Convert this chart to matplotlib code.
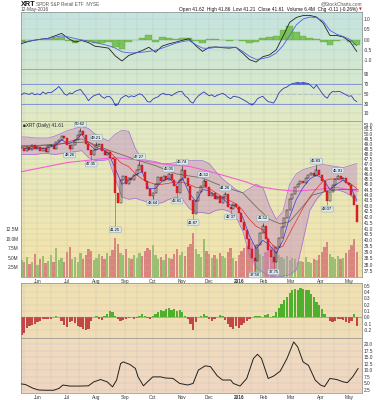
import numpy as np
import pandas as pd
import matplotlib
matplotlib.use('Agg')
import matplotlib.pyplot as plt
from matplotlib.colors import to_rgb
from matplotlib.ticker import NullLocator, FixedLocator

plt.rcParams['font.family'] = ['Liberation Sans Narrow', 'Liberation Sans', 'DejaVu Sans']

# trading calendar 13-May-2015 .. 12-May-2016
holidays = ['2015-05-25', '2015-07-03', '2015-09-07', '2015-11-26', '2015-12-25',
            '2016-01-01', '2016-01-18', '2016-02-15', '2016-03-25']
dates = pd.bdate_range('2015-05-13', '2016-05-12', freq='C', holidays=holidays)

# price, every 2nd trading day
close = [48.6, 48.3, 48.7, 48.4, 48.9, 48.5, 48.7, 48.3, 48.6, 48.2,
         48.8, 48.9, 48.5, 49.2, 49.4, 49.8, 49.6, 48.9, 48.5, 48.9,
         49.4, 49.9, 50.3, 49.9, 49.0, 48.4, 47.9, 48.4, 48.9, 49.0,
         48.3, 47.9, 48.2, 47.6, 47.5, 44.2, 43.3, 45.4, 45.8, 45.0,
         45.6, 45.4, 45.9, 46.4, 46.9, 46.2, 45.3, 44.6, 43.9, 44.2,
         45.0, 45.7, 45.3, 45.8, 45.4, 46.0, 45.4, 44.8, 44.2, 45.4,
         46.4, 45.6, 44.8, 43.5, 42.3, 43.4, 44.3, 44.8, 45.3, 44.7,
         43.9, 44.2, 43.6, 43.9, 43.3, 43.8, 44.1, 42.9, 42.7, 43.2,
         42.9, 42.4, 41.6, 40.9, 40.1, 39.3, 38.5, 38.3, 39.6, 40.6,
         41.2, 40.1, 39.2, 38.6, 38.2, 39.4, 40.2, 41.1, 41.9, 42.6,
         43.6, 44.1, 44.7, 45.0, 45.3, 45.1, 45.6, 45.9, 46.1, 45.8,
         46.4, 45.9, 45.3, 44.4, 43.4, 44.3, 44.9, 45.5, 45.8, 45.5,
         45.6, 45.1, 44.9, 44.0, 43.1, 41.61]
volume = [4.5, 3.8, 5.2, 3.5, 4.0, 6.0, 3.2, 4.8, 5.5, 3.6,
          4.2, 5.8, 3.9, 7.5, 4.4, 5.0, 3.8, 6.5, 7.8, 4.6,
          5.2, 3.9, 6.2, 4.8, 5.6, 7.2, 6.8, 4.4, 5.0, 6.0,
          5.4, 4.8, 6.2, 5.5, 7.0, 10.2, 8.5, 6.3, 5.8, 7.4,
          5.0, 4.6, 5.8, 4.9, 6.2, 5.5, 6.8, 7.5, 6.9, 8.2,
          5.6, 4.8, 5.2, 4.3, 6.0, 5.0, 4.6, 5.9, 7.2, 5.8,
          6.6, 5.4, 7.8, 8.6, 11.4, 7.2, 6.0, 5.2, 10.0, 6.8,
          6.0, 5.0, 5.6, 4.8, 6.2, 5.5, 4.9, 6.6, 7.5, 5.0,
          4.2, 5.8, 6.8, 7.6, 8.0, 7.5, 9.0, 8.4, 7.2, 6.0,
          5.4, 6.5, 7.0, 7.8, 8.2, 6.8, 5.6, 5.2, 4.8, 5.5,
          4.4, 5.0, 4.6, 3.8, 4.2, 3.9, 5.2, 4.0, 3.6, 4.8,
          4.5, 5.8, 6.6, 7.8, 9.0, 6.0, 5.2, 4.8, 5.4, 4.6,
          5.0, 6.2, 7.0, 8.4, 10.0, 6.4]
rsi = [48, 52, 50, 49, 52, 48, 50, 48, 54, 50,
       53, 52, 56, 60, 65, 58, 50, 47, 52, 50,
       55, 57, 59, 52, 45, 36, 42, 46, 48, 50,
       44, 41, 45, 44, 38, 26, 28, 40, 44, 47,
       43, 46, 44, 47, 50, 48, 42, 34, 33, 39,
       42, 44, 49, 51, 48, 49, 46, 50, 53, 55,
       54, 46, 42, 34, 31, 40, 46, 50, 54, 50,
       46, 48, 44, 47, 49, 51, 48, 43, 40, 45,
       44, 43, 40, 37, 34, 30, 27, 32, 40, 43,
       45, 39, 34, 33, 31, 40, 52, 58, 62, 64,
       68, 71, 72, 73, 72, 73, 72, 71, 66, 61,
       68, 60, 52, 45, 41, 50, 55, 54, 55, 54,
       51, 48, 45, 46, 38, 34]
osc = [-0.28, -0.24, -0.17, -0.14, -0.12, -0.10, -0.08, -0.06, -0.03, -0.02,
       -0.03, -0.02, 0.01, 0.02, 0.01, -0.06, -0.12, -0.15, -0.08, -0.05,
       -0.09, -0.13, -0.16, -0.19, -0.20, -0.18, -0.05, 0.01, 0.02, -0.02,
       -0.04, 0.02, 0.06, 0.10, 0.08, 0.03, -0.03, -0.05, -0.04, -0.02,
       -0.01, 0.01, -0.02, -0.01, 0.02, 0.06, 0.03, -0.01, -0.02, 0.02,
       0.05, 0.09, 0.12, 0.10, 0.13, 0.15, 0.11, 0.13, 0.10, 0.12,
       0.08, 0.03, -0.02, -0.10, -0.20, -0.08, 0.01, 0.03, 0.05, 0.02,
       -0.02, -0.05, -0.03, 0.01, 0.04, 0.02, -0.04, -0.10, -0.15, -0.18,
       -0.14, -0.17, -0.12, -0.09, -0.05, -0.02, 0.01, 0.02, 0.03, 0.02,
       0.01, 0.04, 0.05, 0.01, 0.03, 0.08, 0.15, 0.21, 0.27, 0.33,
       0.38, 0.43, 0.45, 0.44, 0.47, 0.45, 0.43, 0.44, 0.37, 0.32,
       0.25, 0.19, 0.13, 0.06, 0.01, -0.06, -0.08, -0.05, -0.03, -0.02,
       -0.04, -0.07, -0.09, -0.05, 0.05, -0.14]

# weekly samples (every 5th trading day)
bb_upper = [49.7, 49.7, 49.6, 49.6, 49.6, 49.8, 50.1, 50.4, 50.6, 50.8,
            50.6, 50.0, 49.6, 49.3, 50.0, 50.4, 50.3, 48.5, 47.4, 47.3,
            47.2, 47.0, 47.0, 47.1, 47.3, 47.3, 47.3, 47.3, 47.0, 46.2,
            45.5, 45.0, 44.5, 44.2, 44.6, 45.0, 44.7, 43.0, 41.8, 42.5,
            45.0, 46.0, 46.4, 46.6, 46.8, 46.9, 46.8, 46.7, 46.6, 46.8, 47.0]
bb_lower = [47.9, 47.9, 47.9, 48.0, 48.0, 47.9, 48.0, 48.1, 48.2, 48.3,
            47.6, 47.3, 47.3, 47.4, 45.5, 43.8, 43.6, 43.7, 43.5, 43.3,
            43.2, 43.3, 43.6, 43.8, 43.6, 42.8, 42.4, 42.4, 42.3, 42.6,
            42.7, 42.5, 42.0, 40.8, 38.8, 37.8, 37.4, 37.1, 37.0, 37.1,
            37.2, 37.6, 40.0, 42.6, 43.6, 44.3, 44.5, 44.5, 44.3, 44.0, 43.4]
ma_red = [48.8, 48.8, 48.7, 48.8, 48.8, 48.85, 49.0, 49.2, 49.4, 49.5,
          49.2, 48.7, 48.4, 48.3, 47.6, 47.0, 46.7, 46.0, 45.5, 45.2,
          45.0, 45.0, 45.1, 45.2, 45.2, 45.0, 44.7, 44.7, 44.6, 44.2,
          43.8, 43.5, 43.2, 42.6, 41.8, 41.2, 40.9, 39.9, 39.3, 39.5,
          40.6, 41.7, 42.8, 43.8, 44.6, 45.3, 45.5, 45.5, 45.35, 45.1, 44.6]
ma_blue = [48.6, 48.5, 48.6, 48.5, 48.6, 48.8, 49.4, 49.0, 49.3, 50.0,
           49.0, 48.4, 48.5, 48.0, 46.5, 45.0, 45.4, 45.9, 46.2, 44.6,
           44.6, 45.3, 45.6, 44.9, 45.6, 44.2, 43.4, 44.5, 44.4, 43.8,
           43.7, 43.1, 43.0, 42.0, 40.4, 39.3, 40.0, 39.6, 38.9, 40.0,
           42.0, 43.6, 44.7, 45.5, 45.9, 45.5, 44.5, 45.0, 45.4, 44.9, 43.5]
ppo_line = [-0.2, -0.1, -0.03, 0.02, 0.06, 0.18, 0.3, 0.05, -0.12, -0.05,
            -0.15, -0.33, -0.37, -0.42, -0.8, -1.05, -0.78, -0.66, -0.54, -0.38,
            -0.62, -0.32, -0.21, -0.13, -0.04, 0.04, -0.3, -0.58, -0.38, -0.36,
            -0.4, -0.42, -0.38, -0.67, -0.98, -1.1, -0.84, -0.75, -0.5, 0.15,
            0.84, 1.08, 1.17, 1.18, 1.1, 0.8, 0.2, 0.2, 0.12, -0.1, -0.58]
ppo_signal = [-0.12, -0.08, -0.03, 0.02, 0.05, 0.12, 0.18, 0.13, 0.05, -0.02,
              -0.08, -0.15, -0.22, -0.3, -0.42, -0.6, -0.65, -0.65, -0.62, -0.58,
              -0.52, -0.42, -0.3, -0.18, -0.1, -0.05, -0.25, -0.42, -0.43, -0.38,
              -0.37, -0.37, -0.38, -0.58, -0.82, -0.97, -0.93, -0.85, -0.66, -0.3,
              0.2, 0.72, 1.0, 1.1, 1.07, 0.9, 0.45, 0.26, 0.15, 0.0, -0.3]

# sparse samples (trading-day index, value)
ma50_day = [0, 29, 49, 66, 81, 85, 100, 115, 135, 150, 165, 176, 185, 193, 200, 208, 217, 228, 237, 251]
ma50 = [48.7, 49.0, 49.2, 48.3, 47.6, 47.4, 46.8, 46.0, 45.6, 44.8, 44.2, 42.8, 41.8, 41.4, 41.6, 42.7, 44.0, 44.35, 44.5, 44.5]
ma200_day = [0, 34, 69, 84, 109, 126, 141, 156, 168, 176, 191, 205, 220, 235, 251]
ma200 = [46.2, 47.1, 47.6, 47.4, 46.9, 46.7, 46.2, 45.65, 45.2, 44.8, 44.5, 44.35, 44.5, 44.7, 44.35]
bw_day = [0, 3, 9, 13, 19, 24, 28, 31, 36, 44, 50, 54, 59, 64, 68, 71, 74, 76, 81, 85,
          87, 91, 94, 98, 104, 107, 113, 118, 124, 128, 132, 137, 141, 146, 150, 156, 158, 163, 168, 173,
          176, 179, 184, 188, 193, 198, 203, 206, 210, 214, 219, 223, 226, 230, 235, 240, 243, 247, 251]
bw = [4.8, 4.6, 3.1, 2.5, 2.4, 2.4, 3.1, 4.4, 4.0, 4.0, 4.1, 5.6, 6.5, 5.6, 3.7, 6.3, 12.6, 13.2, 12.2, 10.7,
      7.5, 4.1, 5.6, 7.5, 7.5, 7.1, 6.9, 5.0, 4.4, 5.0, 10.1, 11.7, 11.4, 7.9, 6.3, 6.3, 5.0, 4.0, 6.9, 14.5,
      16.1, 14.5, 6.9, 7.8, 9.7, 14.5, 20.8, 18.9, 13.2, 11.9, 6.3, 4.4, 3.8, 6.9, 6.5, 5.6, 5.3, 7.5, 10.7]

swing_day = [36, 44, 52, 56, 70, 88, 98, 110, 116, 120, 128, 136, 152, 156, 174, 180, 188, 220, 228, 236]
swing_price = [48.26, 50.62, 47.35, 49.21, 41.25, 47.27, 43.64, 46.05, 43.81, 46.74,
               41.87, 45.52, 44.26, 42.37, 37.50, 41.52, 37.75, 46.83, 43.07, 45.91]
swing_high = [False, True, False, True, False, True, False, True, False, True,
              False, True, True, False, False, True, False, True, False, True]

price_ticks = np.arange(37.5, 51.01, 0.5)

# ---------------------------------------------------------------
close = np.array(close)
day2 = np.arange(0, 2 * len(close), 2)
dayw = np.arange(0, 5 * len(bb_upper), 5)
opens = np.r_[close[0], close[:-1]]
up = close >= opens
hist = np.array(ppo_line) - np.array(ppo_signal)
rsi = np.array(rsi, dtype=float)
osc = np.array(osc)

month = dates.month
mstart = [i for i in range(1, len(dates)) if month[i] != month[i - 1]]
mlabels = ['2016' if dates[i].month == 1 else dates[i].strftime('%b') for i in mstart]
mid = [i for i in range(1, len(dates)) if dates[i].day >= 15 and dates[i - 1].day < 15]

fig = plt.figure(figsize=(3.79, 4.0), dpi=100)
L, W = 20.7 / 379, 341.0 / 379


def mk(top, bot):
    return fig.add_axes([L, 1 - bot / 400, W, (bot - top) / 400])


def grad(ax, ctop, cbot):
    t, b = np.array(to_rgb(ctop)), np.array(to_rgb(cbot))
    g = np.linspace(0, 1, 64)[:, None]
    img = (t * (1 - g) + b * g)[:, None, :]
    ax.imshow(img, extent=[0, 1, 0, 1], transform=ax.transAxes, aspect='auto',
              zorder=-10, interpolation='bilinear')


def style(ax, yticks, fmt, ylim, bottom_labels=False):
    ax.set_xlim(-0.5, 253.7)
    ax.set_ylim(*ylim)
    ax.yaxis.tick_right()
    ax.yaxis.set_major_locator(FixedLocator(yticks))
    ax.yaxis.set_minor_locator(NullLocator())
    ax.set_yticklabels([fmt % v for v in yticks])
    ax.xaxis.set_major_locator(FixedLocator(mstart))
    ax.xaxis.set_minor_locator(FixedLocator(mid))
    if bottom_labels:
        ax.set_xticklabels(mlabels)
        for lab in ax.get_xticklabels():
            if lab.get_text() == '2016':
                lab.set_fontweight('bold')
    else:
        ax.set_xticklabels([])
    ax.tick_params(axis='both', which='both', length=0, labelsize=3.4, pad=1.5, colors='#333333')
    ax.grid(True, which='both', color='#b8bcae', lw=0.3, alpha=0.7)
    ax.set_axisbelow(True)
    for s in ax.spines.values():
        s.set_color('#8c8c8c')
        s.set_linewidth(0.5)


# panel 1: oscillator
ax1 = mk(11.7, 69)
grad(ax1, '#c4e4e0', '#d2e8d2')
ax1.bar(dayw, hist, width=5, color='#7cc25a', edgecolor='#4f9a36', lw=0.2, zorder=2)
ax1.plot(dayw, ppo_line, color='#222222', lw=0.6, zorder=3)
ax1.plot(dayw, ppo_signal, color='#5060e0', lw=0.6, zorder=3)
style(ax1, [1.0, 0.5, 0.0, -0.5, -1.0], '%.1f', (-1.44, 1.36))

# panel 2: RSI
ax2 = mk(69, 121)
grad(ax2, '#d2e8d2', '#e2eac2')
ax2.axhline(70, color='#7888dc', lw=0.6, zorder=2)
ax2.axhline(30, color='#7888dc', lw=0.6, zorder=2)
ax2.axhline(50, color='#98a4cc', lw=0.4, ls='-.', zorder=2)
ax2.fill_between(day2, rsi, 30, where=rsi < 30, color='#3848c8', lw=0, zorder=3, interpolate=True)
ax2.fill_between(day2, rsi, 70, where=rsi > 70, color='#3848c8', lw=0, zorder=3, interpolate=True)
ax2.plot(day2, rsi, color='#2c3cc0', lw=0.6, zorder=4)
style(ax2, [90, 70, 50, 30, 10], '%d', (-5.4, 100.6))

# panel 3: volume (behind) and price
axv = mk(121, 277)
grad(axv, '#e2ebc4', '#f5e3a8')
vol_col = ['#8fbb6a' if u else '#d97a7a' for u in up]
axv.bar(day2, volume, width=1.7, color=vol_col, lw=0, alpha=0.9)
axv.set_xlim(-0.5, 253.7)
axv.set_ylim(0, 40.6)
axv.yaxis.set_major_locator(FixedLocator([2.5, 5.0, 7.5, 10.0, 12.5]))
axv.set_yticklabels(['2.5M', '5.0M', '7.5M', '10.0M', '12.5M'])
axv.set_xticks([])
axv.tick_params(axis='y', length=0, labelsize=3.4, pad=1.5, colors='#333333')
for s in axv.spines.values():
    s.set_visible(False)

ax3 = mk(121, 277)
ax3.set_zorder(axv.get_zorder() + 1)
ax3.patch.set_visible(False)
ax3.set_yscale('log')
ax3.fill_between(dayw, bb_lower, bb_upper, color='#c08ac4', alpha=0.45, lw=0, zorder=1)
ax3.plot(dayw, bb_upper, color='#a070d6', lw=0.5, zorder=2)
ax3.plot(dayw, bb_lower, color='#a070d6', lw=0.5, zorder=2)
ax3.plot(ma200_day, ma200, color='#f25fd2', lw=0.8, zorder=2)
ax3.plot(ma50_day, ma50, color='#6e6e5e', lw=0.6, zorder=2)
ax3.plot(dayw, ma_red, color='#e03030', lw=0.5, zorder=3)
ax3.plot(dayw, ma_blue, color='#3040e0', lw=0.5, zorder=3)

lo = np.minimum(opens, close)
hgt = np.abs(close - opens)
ax3.bar(day2[~up], hgt[~up], bottom=lo[~up], width=1.5, color='#e4202a',
        edgecolor='#c01018', lw=0.3, zorder=4)
ax3.bar(day2[up], hgt[up], bottom=lo[up], width=1.5, facecolor='none',
        edgecolor='#111111', lw=0.35, zorder=4)
for d, p, hi in zip(swing_day, swing_price, swing_high):
    i = d // 2
    base = max(opens[i], close[i]) if hi else min(opens[i], close[i])
    ax3.vlines(d, base, p, color='#e4202a' if not up[i] else '#111111', lw=0.4, zorder=4)
    ax3.annotate('%.2f' % p, (d, p), xytext=(0, 1.5 if hi else -1.5), textcoords='offset points',
                 ha='center', va='bottom' if hi else 'top', fontsize=3.0, zorder=6,
                 annotation_clip=False,
                 bbox=dict(boxstyle='round,pad=0.2', fc='#dbe8ee', ec='#7f96a8', lw=0.3))
style(ax3, price_ticks, '%.1f', (37.03, 51.4), bottom_labels=True)
ax3.text(0.006, 0.988, '\u25a0XRT (Daily) 41.61', transform=ax3.transAxes, fontsize=3.4,
         va='top', ha='left', color='#222222')

# panel 4: histogram oscillator
ax4 = mk(283, 338)
grad(ax4, '#f2e2b2', '#f0dcb6')
ax4.bar(day2, osc, width=1.7, color=['#4fb02e' if v >= 0 else '#c24646' for v in osc], lw=0, zorder=2)
ax4.axhline(0, color='#8a8070', lw=0.4, zorder=2)
style(ax4, [0.5, 0.4, 0.3, 0.2, 0.1, 0.0, -0.1, -0.2], '%.1f', (-0.327, 0.546))

# panel 5: line indicator
ax5 = mk(338, 393)
grad(ax5, '#f0dcbe', '#f0d6c2')
ax5.plot(bw_day, bw, color='#202020', lw=0.7, zorder=3)
style(ax5, [20.0, 17.5, 15.0, 12.5, 10.0, 7.5, 5.0, 2.5], '%.1f', (1.36, 22.3), bottom_labels=True)

# header
fig.text(20.7 / 379, 1 - 4.5 / 400, 'XRT', fontsize=5.2, weight='bold', va='center', color='#111111')
fig.text(36 / 379, 1 - 4.5 / 400, 'SPDR S&P Retail ETF  NYSE', fontsize=3.4, va='center', color='#555555')
fig.text(20.7 / 379, 1 - 9.5 / 400, '12-May-2016', fontsize=3.4, va='center', color='#444444')
fig.text(361.7 / 379, 1 - 3.5 / 400, '@StockCharts.com', fontsize=3.4, ha='right', va='center', color='#555555')
fig.text(358 / 379, 1 - 9.5 / 400,
         'Open 41.62  High 41.86  Low 41.21  Close 41.61  Volume 6.4M  Chg -0.11 (-0.26%)',
         fontsize=3.4, ha='right', va='center', color='#111111')
fig.text(361.7 / 379, 1 - 9.5 / 400, '\u25bc', fontsize=2.6, ha='right', va='center',
         color='#d02020', family='DejaVu Sans')

fig.savefig('out.png', dpi=100, facecolor='white')
